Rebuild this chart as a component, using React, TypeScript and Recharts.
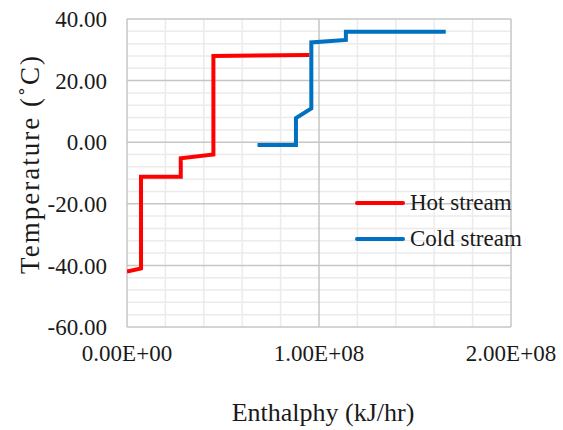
import {
  LineChart,
  Line,
  XAxis,
  YAxis,
  Legend,
  Label,
  ReferenceLine,
} from "recharts";

// hot composite curve
const hotEnthalpy = [0, 7.3e6, 7.3e6, 2.8e7, 2.8e7, 4.5e7, 4.5e7, 9.5e7];
const hotTemp = [-42, -41, -11.2, -11.2, -5.2, -4, 28, 28.3];

// cold composite curve
const coldEnthalpy = [6.8e7, 8.8e7, 8.8e7, 9.6e7, 9.6e7, 1.14e8, 1.14e8, 1.66e8];
const coldTemp = [-0.9, -0.9, 7.8, 11, 32.4, 33.2, 35.9, 35.9];

const xTicks = [0, 1e8, 2e8];
const yTicks = [-60, -40, -20, 0, 20, 40];
const xMinor = [2e7, 4e7, 6e7, 8e7, 1.2e8, 1.4e8, 1.6e8, 1.8e8];
const yMinor = [
  -56, -52, -48, -44, -36, -32, -28, -24, -16, -12, -8, -4,
  4, 8, 12, 16, 24, 28, 32, 36,
];

const hotData = hotEnthalpy.map((x, i) => ({ x, y: hotTemp[i] }));
const coldData = coldEnthalpy.map((x, i) => ({ x, y: coldTemp[i] }));

const FONT = "Liberation Serif, serif";
const MAJOR = "#c6c6c6";
const MINOR = "#ebebeb";

const fmtSci = (v: number) => {
  const [m, e] = v.toExponential(2).split("e");
  const sign = e[0] === "-" ? "-" : "+";
  const digits = e.replace(/[+-]/, "").padStart(2, "0");
  return `${m}E${sign}${digits}`;
};

function LegendBox() {
  const items = [
    { name: "Hot stream", color: "#ff0000" },
    { name: "Cold stream", color: "#0070c0" },
  ];
  return (
    <div style={{ fontFamily: FONT, fontSize: 23, color: "#1a1a1a" }}>
      {items.map((it) => (
        <div
          key={it.name}
          style={{ display: "flex", alignItems: "center", height: 36 }}
        >
          <span
            style={{
              display: "inline-block",
              width: 50,
              height: 4,
              borderRadius: 2,
              background: it.color,
              marginRight: 5,
            }}
          />
          <span>{it.name}</span>
        </div>
      ))}
    </div>
  );
}

export default function App() {
  return (
    <div style={{ position: "absolute", left: 0, top: 0, background: "#fff" }}>
      <LineChart
        width={563}
        height={430}
        margin={{ top: 19, right: 52, bottom: 0, left: 0 }}
      >
        {yMinor.map((v) => (
          <ReferenceLine key={"hm" + v} y={v} stroke={MINOR} strokeWidth={1.5} />
        ))}
        {xMinor.map((v) => (
          <ReferenceLine key={"vm" + v} x={v} stroke={MINOR} strokeWidth={1.5} />
        ))}
        {yTicks.map((v) => (
          <ReferenceLine key={"h" + v} y={v} stroke={MAJOR} strokeWidth={1.5} />
        ))}
        {xTicks.map((v) => (
          <ReferenceLine key={"v" + v} x={v} stroke={MAJOR} strokeWidth={1.5} />
        ))}
        <XAxis
          dataKey="x"
          type="number"
          domain={[0, 2e8]}
          ticks={xTicks}
          tickFormatter={fmtSci}
          axisLine={false}
          tickLine={false}
          tickSize={0}
          tickMargin={18}
          height={103}
          tick={{ fontFamily: FONT, fontSize: 23, fill: "#1a1a1a" }}
          allowDataOverflow
        >
          <Label
            content={() => (
              <text
                x={323}
                y={421}
                textAnchor="middle"
                fontFamily={FONT}
                fontSize={26}
                fill="#1a1a1a"
              >
                Enthalphy (kJ/hr)
              </text>
            )}
          />
        </XAxis>
        <YAxis
          type="number"
          domain={[-60, 40]}
          ticks={yTicks}
          tickFormatter={(v: number) => v.toFixed(2)}
          axisLine={false}
          tickLine={false}
          tickSize={0}
          tickMargin={20}
          width={127}
          tick={{ fontFamily: FONT, fontSize: 23, fill: "#1a1a1a" }}
        >
          <Label
            content={() => (
              <text
                x={30}
                y={164}
                transform="rotate(-90 30 164)"
                textAnchor="middle"
                dominantBaseline="central"
                fontFamily={FONT}
                fontSize={27}
                letterSpacing={2}
                fill="#1a1a1a"
              >
                Temperature (˚C)
              </text>
            )}
          />
        </YAxis>
        <Legend
          layout="horizontal"
          verticalAlign="middle"
          align="center"
          content={() => <LegendBox />}
          wrapperStyle={{ left: 355, top: 185, width: 200 }}
        />
        <Line
          data={hotData}
          dataKey="y"
          name="Hot stream"
          type="linear"
          stroke="#ff0000"
          strokeWidth={4}
          dot={false}
          isAnimationActive={false}
        />
        <Line
          data={coldData}
          dataKey="y"
          name="Cold stream"
          type="linear"
          stroke="#0070c0"
          strokeWidth={4}
          dot={false}
          isAnimationActive={false}
        />
      </LineChart>
    </div>
  );
}
